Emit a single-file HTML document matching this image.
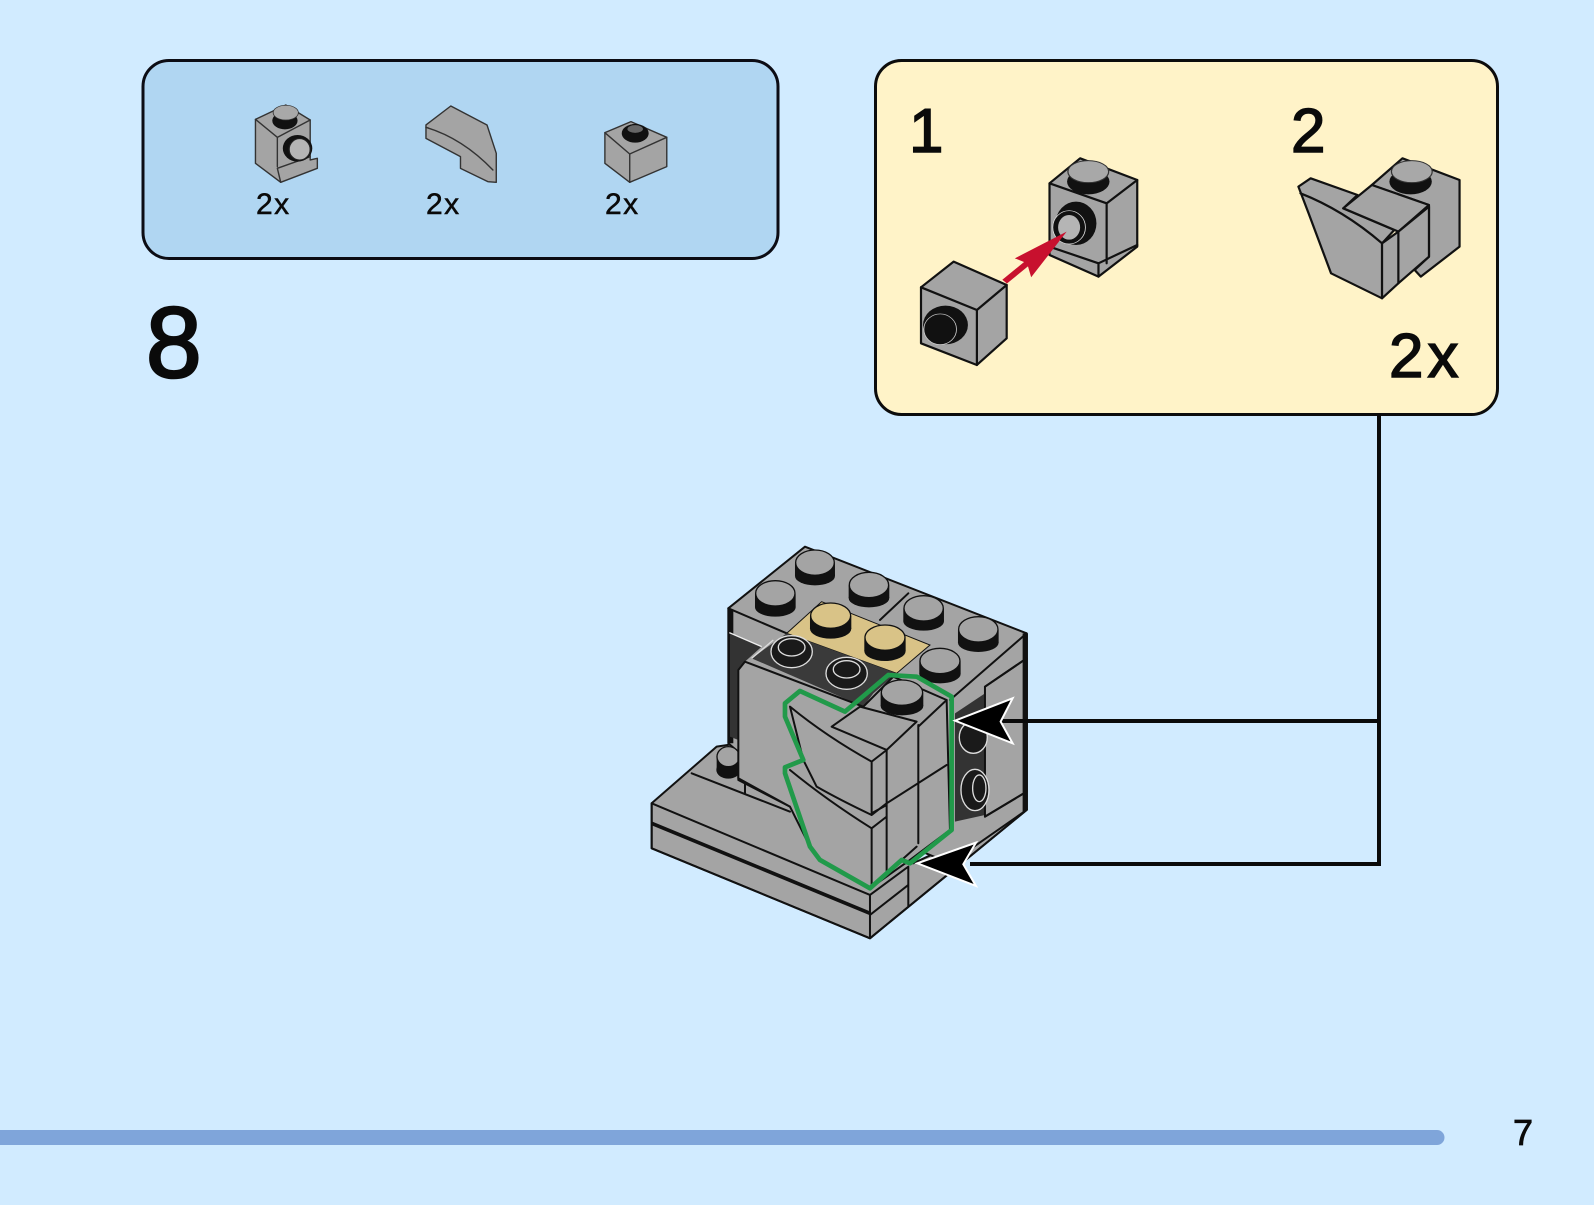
<!DOCTYPE html>
<html>
<head>
<meta charset="utf-8">
<style>
html,body{margin:0;padding:0;background:#d1ebff;width:1594px;height:1205px;overflow:hidden}
svg{display:block}
text{font-family:"Liberation Sans",sans-serif;fill:#0a0a0a;stroke:#0a0a0a}
.f{fill:#a4a4a4;stroke:#111;stroke-width:6;stroke-linejoin:round}
.l{fill:none;stroke:#111;stroke-width:6;stroke-linejoin:round;stroke-linecap:round}
.s2 .f,.s2 .l{vector-effect:non-scaling-stroke;stroke-width:2.2}
.s3 .f,.s3 .l{vector-effect:non-scaling-stroke;stroke-width:1.4;stroke:#333}
</style>
</head>
<body>
<svg width="1594" height="1205" viewBox="0 0 1594 1205" xmlns="http://www.w3.org/2000/svg">
<rect width="1594" height="1205" fill="#d1ebff"/>

<!-- parts box -->
<rect x="143" y="60.500" width="635" height="198" rx="26" fill="#b0d6f2" stroke="#0c0c14" stroke-width="3"/>
<text x="256" y="214" font-size="30" letter-spacing="1.500" stroke-width=".5">2x</text>
<text x="426" y="214" font-size="30" letter-spacing="1.500" stroke-width=".5">2x</text>
<text x="605" y="214" font-size="30" letter-spacing="1.500" stroke-width=".5">2x</text>

<g class="s3" transform="translate(130,50) scale(.421,.3333)">
  <polygon class="f" points="298,208 370,165 428,210 428,330 445,325 445,355 358,397 298,340"/>
  <path class="l" d="M298,208L350,262L428,210M350,262V350M350,355L358,397M350,355L428,320"/>
  <ellipse cx="368" cy="212" rx="30" ry="26" fill="#111"/>
  <ellipse cx="370" cy="188" rx="30" ry="22" fill="#a8a8a8" stroke="#333" stroke-width="2"/>
  <ellipse cx="398" cy="295" rx="35" ry="40" fill="#111"/>
  <ellipse cx="403" cy="298" rx="25" ry="32" fill="#b5b5b5" stroke="#222" stroke-width="3"/>
  <polygon class="f" points="703,225 762,168 848,225 870,310 870,397 850,395 785,355 785,320 703,265"/>
  <path class="l" d="M703,232Q790,265 862,360"/>
  <polygon class="f" points="1128,248 1190,215 1275,262 1275,350 1187,397 1128,340"/>
  <path class="l" d="M1128,248L1187,312L1275,262M1187,312V397"/>
  <ellipse cx="1200" cy="250" rx="32" ry="28" fill="#111"/>
  <ellipse cx="1200" cy="237" rx="20" ry="13" fill="#666" stroke="#111" stroke-width="3"/>
</g>

<text x="146" y="377" font-size="100" stroke-width="2.500">8</text>

<!-- sub-assembly box -->
<rect x="875.500" y="60.500" width="622" height="354" rx="26" fill="#fff3c8" stroke="#0c0c0c" stroke-width="3"/>
<text x="909" y="152" font-size="62" stroke-width="1.500">1</text>
<text x="1291" y="152" font-size="62" stroke-width="1.500">2</text>
<text x="1389" y="377" font-size="62" letter-spacing="4" stroke-width="1.500">2x</text>

<g class="s2" transform="translate(870,50) scale(.408,.3333)">
  <!-- brick B -->
  <polygon class="f" points="440,400 515,325 655,390 655,590 560,680 440,615"/>
  <path class="l" d="M440,400L580,460L655,390M580,460V640M440,590L560,640V680M560,640L655,585"/>
  <ellipse cx="535" cy="395" rx="52" ry="38" fill="#111"/>
  <ellipse cx="535" cy="365" rx="50" ry="33" fill="#a8a8a8" stroke="#333" stroke-width="3"/>
  <ellipse cx="505" cy="520" rx="50" ry="65" fill="#111"/>
  <ellipse cx="488" cy="532" rx="40" ry="50" fill="#111" stroke="#ddd" stroke-width="2"/>
  <ellipse cx="488" cy="532" rx="27" ry="37" fill="#b5b5b5"/>
  <!-- red arrow -->
  <line x1="330" y1="695" x2="420" y2="605" stroke="#c8102e" stroke-width="16"/>
  <polygon points="355,625 482,545 395,682 385,640" fill="#c8102e"/>
  <!-- brick A -->
  <polygon class="f" points="125,712 205,635 335,705 335,865 262,945 125,880"/>
  <path class="l" d="M125,712L262,780L335,705M262,780V945"/>
  <ellipse cx="185" cy="825" rx="55" ry="58" fill="#111"/>
  <ellipse cx="172" cy="838" rx="40" ry="46" fill="#111" stroke="#ccc" stroke-width="2"/>
  <!-- part 2 -->
  <polygon class="f" points="1230,405 1305,325 1445,390 1445,590 1350,680 1335,660 1370,620 1370,465"/>
  <path class="l" d="M1370,470V620"/>
  <ellipse cx="1325" cy="395" rx="52" ry="38" fill="#111"/>
  <ellipse cx="1328" cy="365" rx="50" ry="33" fill="#a8a8a8" stroke="#333" stroke-width="3"/>
  <polygon class="f" points="1050,410 1080,385 1195,435 1160,475 1285,540 1255,580 1255,745 1130,670 1075,490"/>
  <path class="l" d="M1055,430Q1160,480 1255,580"/>
  <polygon class="f" points="1160,475 1230,405 1370,465 1295,545"/>
  <polygon class="f" points="1255,580 1295,545 1370,470 1370,620 1295,700 1255,745"/>
  <path class="l" d="M1295,545V700"/>
</g>

<!-- main model -->
<g transform="translate(630,530) scale(.3333)">
  <!-- base -->
  <polygon class="f" points="65,820 260,650 325,640 325,750 480,830 720,1000 850,1000 1190,840 720,1225 65,955"/>
  <!-- back block -->
  <polygon class="f" points="295,235 525,50 1190,310 1190,840 960,1000 480,800 295,640"/>
  <polygon points="295,235 295,640 310,640 310,240" fill="#111"/>
  <polygon points="975,550 1065,490 1065,855 975,875" fill="#333"/>
  <polygon class="f" points="1065,470 1190,385 1190,785 1065,860"/>
  <polygon points="1178,310 1194,310 1194,840 1178,850" fill="#111"/>
  <path class="l" d="M960,510L1190,310M1065,470L1190,385M1065,860L1190,785M295,235L470,310M750,270L835,190"/>
  <!-- recess & holes -->
  <polygon points="300,310 395,350 345,395 325,420 325,630 300,620" fill="#333"/>
  <path d="M298,308L395,350" stroke="#eee" stroke-width="4" fill="none"/>
  <polygon points="470,310 575,215 900,345 800,430" fill="#d9c387" stroke="#111" stroke-width="3"/>
  <polygon points="365,385 470,310 800,430 730,490 700,530" fill="#3a3a3a"/>
  <path d="M365,385L430,330" stroke="#ddd" stroke-width="4"/>
  <g fill="#1a1a1a" stroke="#ddd" stroke-width="4">
    <ellipse cx="485" cy="365" rx="62" ry="48"/>
    <ellipse cx="485" cy="352" rx="40" ry="26"/>
    <ellipse cx="650" cy="430" rx="62" ry="48"/>
    <ellipse cx="650" cy="418" rx="40" ry="26"/>
    <ellipse cx="1030" cy="622" rx="42" ry="48"/>
    <ellipse cx="1035" cy="780" rx="42" ry="62"/>
    <ellipse cx="1048" cy="775" rx="20" ry="40"/>
  </g>
  <!-- studs -->
  <g fill="#111">
    <rect x="495" y="100" width="120" height="38"/><ellipse cx="555" cy="138" rx="60" ry="28"/>
    <rect x="375" y="192" width="122" height="40"/><ellipse cx="436" cy="232" rx="61" ry="28"/>
    <rect x="656" y="166" width="122" height="38"/><ellipse cx="717" cy="204" rx="61" ry="28"/>
    <rect x="820" y="236" width="122" height="38"/><ellipse cx="881" cy="274" rx="61" ry="28"/>
    <rect x="984" y="300" width="122" height="38"/><ellipse cx="1045" cy="338" rx="61" ry="28"/>
    <rect x="868" y="394" width="124" height="38"/><ellipse cx="930" cy="432" rx="62" ry="28"/>
    <rect x="540" y="258" width="124" height="38"/><ellipse cx="602" cy="296" rx="62" ry="30"/>
    <rect x="703" y="325" width="124" height="38"/><ellipse cx="765" cy="363" rx="62" ry="30"/>
    <rect x="260" y="675" width="70" height="45"/><ellipse cx="295" cy="720" rx="36" ry="26"/>
  </g>
  <g fill="#a4a4a4" stroke="#111" stroke-width="4">
    <ellipse cx="555" cy="98" rx="58" ry="38"/>
    <ellipse cx="436" cy="190" rx="59" ry="38"/>
    <ellipse cx="717" cy="165" rx="59" ry="38"/>
    <ellipse cx="881" cy="235" rx="59" ry="38"/>
    <ellipse cx="1045" cy="298" rx="59" ry="38"/>
    <ellipse cx="930" cy="393" rx="60" ry="38"/>
    <ellipse cx="295" cy="680" rx="34" ry="30"/>
  </g>
  <ellipse cx="602" cy="257" rx="60" ry="38" fill="#d9c387" stroke="#111" stroke-width="4"/>
  <ellipse cx="765" cy="323" rx="60" ry="38" fill="#d9c387" stroke="#111" stroke-width="4"/>
  <!-- base lines -->
  <path class="l" d="M65,820L720,1095V1225M720,1095L835,1010V1130M720,1155L835,1065M65,820V955L720,1225L1190,840M185,730L480,845M345,760V790"/>
  <path d="M65,880L720,1150" stroke="#111" stroke-width="11" fill="none"/>
  <path d="M340,755L480,820" stroke="#111" stroke-width="8" fill="none"/>
  <!-- front block -->
  <polygon class="f" points="325,420 345,395 700,530 790,440 950,510 960,900 840,990 720,1075 570,990 540,950 480,830 325,745"/>
  <!-- front stud -->
  <rect x="752" y="490" width="128" height="38" fill="#111"/><ellipse cx="816" cy="528" rx="64" ry="28" fill="#111"/>
  <ellipse cx="816" cy="488" rx="62" ry="38" fill="#a4a4a4" stroke="#111" stroke-width="4"/>
  <polygon class="f" points="605,590 690,530 860,575 770,660"/>
  <path class="l" d="M480,530Q590,620 725,695V855M480,530L520,690L560,770Q630,810 725,855M725,695L770,660M770,660V1030M865,585V940M865,590L950,510M725,855L770,820L950,705M480,720Q590,810 725,895V1070M725,895L770,860M725,850L770,825M720,1075L860,950"/>
  <!-- green outline -->
  <polygon points="510,483 645,545 775,435 860,440 965,500 965,900 840,1000 815,990 720,1075 570,990 540,950 465,730 465,712 520,690 465,560 465,520" fill="none" stroke="#219a4a" stroke-width="14" stroke-linejoin="round"/>
</g>

<!-- connector -->
<path d="M1379,414V864H970M1379,721H1000" fill="none" stroke="#0a0a0a" stroke-width="4"/>
<g transform="translate(630,530) scale(.3333)">
  <polygon points="975,572 1148,505 1112,575 1148,640" fill="#000" stroke="#fff" stroke-width="6"/>
  <polygon points="862,1000 1038,938 1000,1003 1038,1068" fill="#000" stroke="#fff" stroke-width="6"/>
</g>

<!-- footer -->
<path d="M0,1130H1437a7.500,7.500 0 0 1 0,15H0Z" fill="#7fa5da"/>
<text x="1513" y="1145" font-size="36" stroke-width=".8">7</text>
</svg>
</body>
</html>
